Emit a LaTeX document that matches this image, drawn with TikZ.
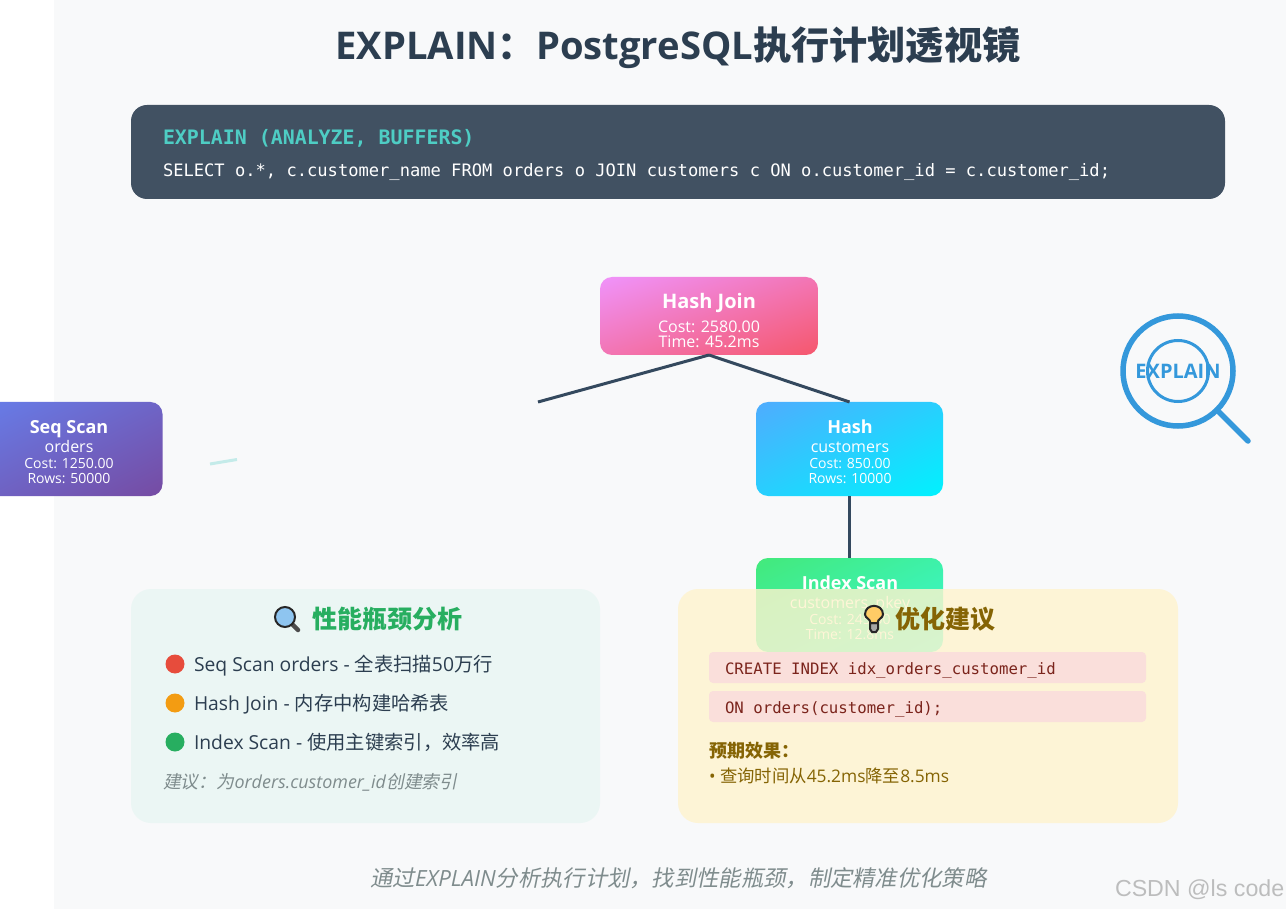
\documentclass[tikz,border=0pt]{standalone}
\usepackage{fontspec}
\setmainfont{Open Sans}
\newfontfamily\cjk{Noto Sans CJK SC}
\newfontfamily\cjkit[FakeSlant=0.2]{Noto Sans CJK SC}
\newfontfamily\codef{DejaVu Sans Mono}
\newfontfamily\markf{Liberation Sans}
\definecolor{ink}{HTML}{2C3E50}
\definecolor{link}{HTML}{34495E}
\definecolor{blue1}{HTML}{3498DB}
\definecolor{warn}{HTML}{856404}
\definecolor{mute}{HTML}{7F8C8D}
\definecolor{pagebg}{HTML}{F8F9FA}
\definecolor{codebg}{HTML}{415162}
\definecolor{codeteal}{HTML}{4ECDC4}
\definecolor{barbg}{HTML}{FADFDB}
\definecolor{barfg}{HTML}{7B241C}
\definecolor{panelG}{HTML}{E8F6F3}
\definecolor{panelY}{HTML}{FFF3CD}
\definecolor{goodc}{HTML}{27AE60}
\definecolor{badc}{HTML}{E74C3C}
\definecolor{midc}{HTML}{F39C12}
\definecolor{bulbc}{HTML}{FFCC66}
\definecolor{lensc}{HTML}{8EC5F0}
% corner-to-corner gradients: t=(x-y+50)/100 inside the 25..75 box that is fitted to the path
\newcommand{\mkdiag}[7]{%
  \pgfdeclarefunctionalshading{#1}{\pgfpoint{0bp}{0bp}}{\pgfpoint{100bp}{100bp}}{}{
    sub 50 add 100 div
    dup #5 mul #2 add exch
    dup #6 mul #3 add exch
    #7 mul #4 add
  }}
% name, start r g b, delta r g b
\mkdiag{gradSeq}{0.400}{0.494}{0.918}{0.063}{-0.200}{-0.282}
\mkdiag{gradJoin}{0.941}{0.576}{0.984}{0.020}{-0.235}{-0.561}
\mkdiag{gradHash}{0.310}{0.675}{0.996}{-0.310}{0.274}{0.000}
\mkdiag{gradIndex}{0.263}{0.914}{0.482}{-0.043}{0.063}{0.361}
\newcommand{\sz}[1]{\fontsize{#1}{#1}\selectfont}
\tikzset{
  txt/.style={inner sep=0pt,outer sep=0pt,anchor=base},
  txtw/.style={inner sep=0pt,outer sep=0pt,anchor=base west},
  planbox/.style n args={3}{rectangle,inner sep=0pt,outer sep=0pt,minimum width=#1,minimum height=#2,rounded corners=12pt,
     shade,shading=#3},
  wire/.style={draw=link,line width=3pt},
  dotm/.style={circle,inner sep=0pt,outer sep=0pt,minimum size=19pt},
  panel/.style={fill=#1,fill opacity=.8,rounded corners=20pt},
  codebar/.style={fill=barbg,rounded corners=4pt},
  btxt/.style={txt,text=white},
}
\begin{document}
\begin{tikzpicture}[x=1pt,y=-1pt]
\useasboundingbox (0,0) rectangle (1286,909);
\clip (0,0) rectangle (1286,909);
\fill[white] (0,0) rectangle (1286,909);
\fill[pagebg] (54,0) rectangle (1286,909);
% title
\node[txt,text=ink] (title) at (678,60) {\sz{38.2}\bfseries EXPLAIN{\cjk\bfseries ：}PostgreSQL{\cjk\bfseries 执行计划透视镜}};
% code panel
\fill[codebg,rounded corners=16pt] (131,105) rectangle (1225,199);
\node[txtw,text=codeteal] (code1) at (163,145) {\codef\sz{19.9}\bfseries EXPLAIN (ANALYZE, BUFFERS)};
\node[txtw,text=white] (code2) at (163,177) {\codef\sz{17.1}SELECT o.*, c.customer\_name FROM orders o JOIN customers c ON o.customer\_id = c.customer\_id;};
% plan nodes
\node[planbox={218pt}{78pt}{gradJoin}] (hj) at (709,316) {};
\node[planbox={187pt}{94pt}{gradHash}] (hs) at (849.5,449) {};
\node[planbox={187pt}{94pt}{gradIndex}] (ix) at (849.5,605) {};
\node[planbox={187pt}{94pt}{gradSeq}] (sq) at (69,449) {};
% connectors
\coordinate (jl) at (538,402);
\coordinate (tealA) at (210,464);
\coordinate (tealB) at (237,459.5);
\draw[wire] (hj.south) -- (jl);
\draw[wire] (hj.south) -- (hs.north);
\draw[wire] (hs.south) -- (ix.north);
\draw[draw=codeteal,draw opacity=.3,line width=3pt] (tealA) -- (tealB);
% node labels
\node[btxt] (hj1) at (709,309) {\sz{20}\bfseries Hash Join};
\node[btxt] (hj2) at (709,333) {\sz{16}Cost: 2580.00};
\node[btxt] (hj3) at (709,347.5) {\sz{16}Time: 45.2ms};
\node[btxt] (sq1) at (69,433) {\sz{18}\bfseries Seq Scan};
\node[btxt] (sq2) at (69,452) {\sz{16}orders};
\node[btxt] (sq3) at (69,468) {\sz{14}Cost: 1250.00};
\node[btxt] (sq4) at (69,483) {\sz{14}Rows: 50000};
\node[btxt] (hs1) at (850,433) {\sz{18}\bfseries Hash};
\node[btxt] (hs2) at (850,452) {\sz{16}customers};
\node[btxt] (hs3) at (850,468) {\sz{14}Cost: 850.00};
\node[btxt] (hs4) at (850,483) {\sz{14}Rows: 10000};
\node[btxt] (ix1) at (850,589) {\sz{18}\bfseries Index Scan};
\node[btxt] (ix2) at (850,608) {\sz{16}customers\_pkey};
\node[btxt] (ix3) at (850,624) {\sz{14}Cost: 245.00};
\node[btxt] (ix4) at (850,639) {\sz{14}Time: 12.8ms};
% magnifier
\node[circle,draw=blue1,line width=5.5pt,minimum size=110pt,inner sep=0pt,outer sep=0pt] (lensA) at (1178,371) {};
\node[circle,draw=blue1,line width=3pt,minimum size=61pt,inner sep=0pt] (lensB) at (1178,371) {};
\coordinate (handle) at (1248,441);
\draw[blue1,line width=5.5pt,line cap=round] (lensA.-45) -- (handle);
\node[txt,text=blue1] (lensT) at (1178,379) {\sz{20}\bfseries EXPLAIN};
% panels
\path[panel=panelG] (131,589) rectangle (600,823);
\path[panel=panelY] (678,589) rectangle (1178,823);
% left panel
\draw[line width=4.5pt,line cap=round,black!70] (292,624) -- (298,630);
\filldraw[draw=black!85,fill=lensc,line width=2pt] (285,617) circle (10);
\node[txtw,text=goodc] (h1) at (312,628) {\cjk\sz{25}\bfseries 性能瓶颈分析};
\node[dotm,fill=badc] (d1) at (175,664) {};
\node[dotm,fill=midc] (d2) at (175,703) {};
\node[dotm,fill=goodc] (d3) at (175,742) {};
\node[txtw,text=ink] (l1) at (194,671) {\sz{19.3}Seq Scan orders - {\cjk 全表扫描}50{\cjk 万行}};
\node[txtw,text=ink] (l2) at (194,710) {\sz{19.3}Hash Join - {\cjk 内存中构建哈希表}};
\node[txtw,text=ink] (l3) at (194,749) {\sz{19.3}Index Scan - {\cjk 使用主键索引，效率高}};
\node[txtw,text=mute] (l4) at (163,788) {\sz{17.9}{\cjkit 建议：为}\textit{orders.customer\_id}{\cjkit 创建索引}};
% right panel
\draw[line width=2pt,black!85,fill=black!35] (870,623) -- (870,629) -- (872,632) -- (876,632) -- (878,629) -- (878,623) -- cycle;
\filldraw[draw=black!85,fill=bulbc,line width=2pt] (870.5,623) .. controls (870.5,619) and (865,618) .. (865,614.5) .. controls (865,603) and (883,603) .. (883,614.5) .. controls (883,618) and (877.5,619) .. (877.5,623) -- cycle;
\node[txtw,text=warn] (h2) at (895,628) {\cjk\sz{25}\bfseries 优化建议};
\path[codebar] (709,652) rectangle (1146,683);
\path[codebar] (709,691) rectangle (1146,722);
\node[txtw,text=barfg] (c1) at (725,674.5) {\codef\sz{15.7}CREATE INDEX idx\_orders\_customer\_id};
\node[txtw,text=barfg] (c2) at (725,713.5) {\codef\sz{15.7}ON orders(customer\_id);};
\node[txtw,text=warn] (r1) at (709,757) {\cjk\sz{18}\bfseries 预期效果：};
\node[txtw,text=warn] (r2) at (709,782) {\sz{17.35}• {\cjk 查询时间从}45.2ms{\cjk 降至}8.5ms};
% footer
\node[txt,text=mute] (foot) at (678.5,886) {\sz{22.3}{\cjkit 通过}\textit{EXPLAIN}{\cjkit 分析执行计划，找到性能瓶颈，制定精准优化策略}};
\node[txtw,text=black!45,text opacity=.55] (mark) at (1115,896) {\markf\sz{23.2}CSDN @ls code};
\end{tikzpicture}
\end{document}
